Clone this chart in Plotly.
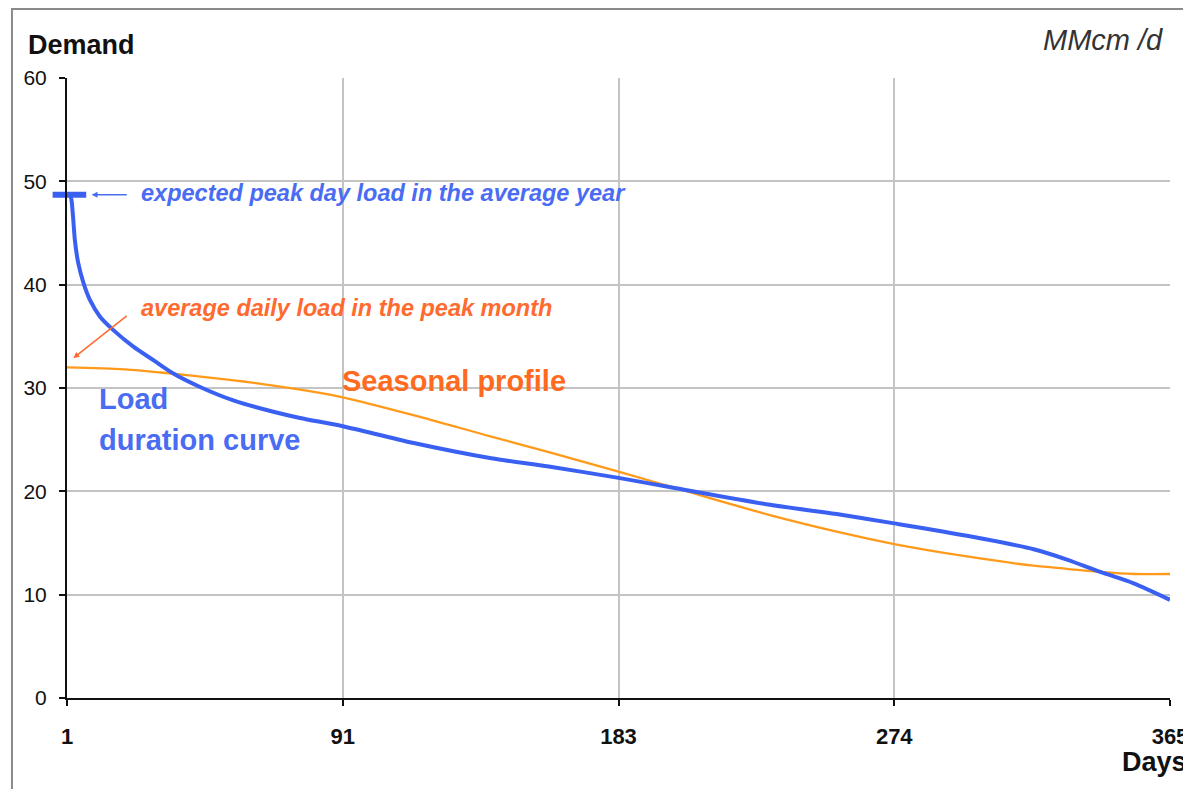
import plotly.graph_objects as go

# ---- data ----
ldc_days = [1, 2.2, 2.9, 3.6, 4.7, 6.4, 8.6, 11.9, 16.3, 22.9, 29.5, 36.1, 44.9, 55.9, 69.1, 77.9,
            92, 115, 141, 160, 183, 202, 233, 255, 274, 298, 320, 331, 342, 353, 365]
ldc_vals = [48.8, 48.5, 46.9, 44.3, 42.1, 40.2, 38.5, 36.9, 35.6, 34.0, 32.7, 31.4, 30.1, 28.8, 27.7, 27.1,
            26.3, 24.7, 23.2, 22.4, 21.3, 20.3, 18.7, 17.8, 16.9, 15.7, 14.4, 13.4, 12.2, 11.1, 9.5]

season_days = [1, 20, 32, 54, 65, 85, 92, 115, 141, 160, 183, 202, 233, 255, 274, 298, 320, 331, 342, 353, 365]
season_vals = [32.0, 31.8, 31.5, 30.8, 30.4, 29.5, 29.1, 27.4, 25.3, 23.8, 21.9, 20.3, 17.7, 16.1, 14.9, 13.7, 12.8, 12.5, 12.2, 12.0, 12.0]

peak_day = [1.8]
peak_val = [48.7]

x_tickvals = [1, 92, 183, 274, 365]
x_ticktext = ["1", "91", "183", "274", "365"]
y_tickvals = [0, 10, 20, 30, 40, 50, 60]

BLUE = "#3a60f2"
BLUE_TXT = "#4a6cf2"
ORANGE = "#ff9a1a"
ORANGE_TXT = "#ff6a2e"
FONT = "Liberation Sans, Arial, sans-serif"

fig = go.Figure()
fig.add_trace(go.Scatter(x=season_days, y=season_vals, mode="lines",
                         line=dict(color=ORANGE, width=2.3, shape="spline", smoothing=0.9),
                         hoverinfo="skip", showlegend=False))
fig.add_trace(go.Scatter(x=ldc_days, y=ldc_vals, mode="lines",
                         line=dict(color=BLUE, width=4, shape="spline", smoothing=0.8),
                         hoverinfo="skip", showlegend=False))
fig.add_trace(go.Scatter(x=peak_day, y=peak_val, mode="markers",
                         marker=dict(symbol="line-ew", size=24, line=dict(color=BLUE, width=6)),
                         cliponaxis=False, hoverinfo="skip", showlegend=False))

ann = []
# peak annotation
ann.append(dict(x=24.8, y=48.9, xref="x", yref="y", text="<b><i>expected peak day load in the average year</i></b>",
                showarrow=False, xanchor="left", yanchor="middle",
                font=dict(family=FONT, size=23.5, color=BLUE_TXT)))
ann.append(dict(x=9.1, y=48.7, ax=21.2, ay=48.7, xref="x", yref="y", axref="x", ayref="y",
                text="", showarrow=True, arrowhead=2, arrowsize=0.8, arrowwidth=1.5, arrowcolor=BLUE_TXT))
# average daily load annotation
ann.append(dict(x=24.8, y=37.7, xref="x", yref="y", text="<b><i>average daily load in the peak month</i></b>",
                showarrow=False, xanchor="left", yanchor="middle",
                font=dict(family=FONT, size=23.5, color=ORANGE_TXT)))
ann.append(dict(x=3.1, y=32.9, ax=21.2, ay=37.1, xref="x", yref="y", axref="x", ayref="y",
                text="", showarrow=True, arrowhead=2, arrowsize=0.8, arrowwidth=1.5, arrowcolor=ORANGE_TXT))
# series labels
ann.append(dict(x=91.1, y=30.7, xref="x", yref="y", text="<b>Seasonal profile</b>",
                showarrow=False, xanchor="left", yanchor="middle",
                font=dict(family=FONT, size=29, color="#ff6a1f")))
ann.append(dict(x=10.8, y=28.9, xref="x", yref="y", text="<b>Load</b>",
                showarrow=False, xanchor="left", yanchor="middle",
                font=dict(family=FONT, size=29, color=BLUE_TXT)))
ann.append(dict(x=10.8, y=25.0, xref="x", yref="y", text="<b>duration curve</b>",
                showarrow=False, xanchor="left", yanchor="middle",
                font=dict(family=FONT, size=29, color=BLUE_TXT)))
# titles
ann.append(dict(x=-0.0372, y=1.053, xref="paper", yref="paper", text="<b>Demand</b>",
                showarrow=False, xanchor="left", yanchor="middle",
                font=dict(family=FONT, size=27, color="#111111")))
ann.append(dict(x=0.9955, y=1.061, xref="paper", yref="paper", text="<i>MMcm /d</i>",
                showarrow=False, xanchor="right", yanchor="middle",
                font=dict(family=FONT, size=29, color="#333333")))
ann.append(dict(x=0.9547, y=-0.103, xref="paper", yref="paper", text="<b>Days</b>",
                showarrow=False, xanchor="left", yanchor="middle",
                font=dict(family=FONT, size=27, color="#111111")))

fig.update_layout(
    width=1183, height=789,
    margin=dict(l=67, r=13, t=78, b=91, autoexpand=False),
    paper_bgcolor="white", plot_bgcolor="white",
    annotations=ann,
    shapes=[dict(type="rect", xref="paper", yref="paper", x0=-0.0499, y0=-0.3, x1=1.2, y1=1.1113,
                 line=dict(color="#8a8a8a", width=2), layer="below")],
)
fig.update_xaxes(range=[1, 365], tickmode="array", tickvals=x_tickvals, ticktext=x_ticktext,
                 showline=True, linecolor="#111111", linewidth=2, automargin=False,
                 ticks="outside", ticklen=6, tickwidth=2, tickcolor="#111111",
                 showgrid=True, gridcolor="#c4c4c4", gridwidth=1.5, zeroline=False,
                 ticklabelstandoff=12, ticklabeloverflow="allow",
                 tickfont=dict(family=FONT, size=22, color="#111111", weight="bold"))
fig.update_yaxes(range=[0, 60], tickmode="array", tickvals=y_tickvals,
                 showline=True, linecolor="#111111", linewidth=2, automargin=False,
                 ticks="outside", ticklen=6, tickwidth=2, tickcolor="#111111",
                 showgrid=True, gridcolor="#c4c4c4", gridwidth=1.5, zeroline=False,
                 ticklabelstandoff=8,
                 tickfont=dict(family=FONT, size=21, color="#111111"))

fig.write_html("out.html", config={"displayModeBar": False},
               post_script="document.body.style.margin='0px';document.body.style.overflow='hidden';")
